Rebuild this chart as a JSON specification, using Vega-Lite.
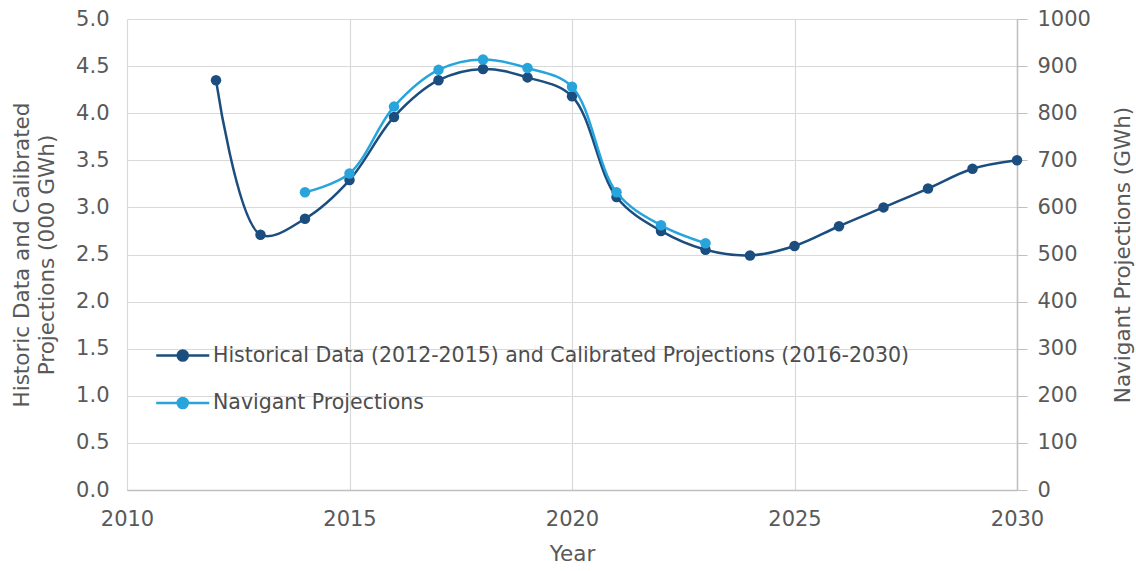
{
  "$schema": "https://vega.github.io/schema/vega-lite/v6.json",
  "autosize": {"type": "none"},
  "width": 890,
  "height": 471,
  "padding": {"left": 127, "top": 19, "right": 119, "bottom": 81},
  "background": "white",
  "config": {
    "view": {"stroke": null},
    "font": "DejaVu Sans",
    "axis": {
      "labelFont": "DejaVu Sans",
      "titleFont": "DejaVu Sans",
      "labelFontSize": 21,
      "titleFontSize": 21.5,
      "titleFontWeight": "normal",
      "labelColor": "#595959",
      "titleColor": "#595959",
      "gridColor": "#d9d9d9",
      "gridWidth": 1.2
    }
  },
  "datasets": {
    "hist": [
      {"year": 2012, "value": 4.35},
      {"year": 2013, "value": 2.71},
      {"year": 2014, "value": 2.88},
      {"year": 2015, "value": 3.29},
      {"year": 2016, "value": 3.96},
      {"year": 2017, "value": 4.35},
      {"year": 2018, "value": 4.47},
      {"year": 2019, "value": 4.38},
      {"year": 2020, "value": 4.18},
      {"year": 2021, "value": 3.11},
      {"year": 2022, "value": 2.75},
      {"year": 2023, "value": 2.55},
      {"year": 2024, "value": 2.49},
      {"year": 2025, "value": 2.59},
      {"year": 2026, "value": 2.8},
      {"year": 2027, "value": 3.0},
      {"year": 2028, "value": 3.2},
      {"year": 2029, "value": 3.41},
      {"year": 2030, "value": 3.5}
    ],
    "nav": [
      {"year": 2014, "gwh": 632},
      {"year": 2015, "gwh": 672},
      {"year": 2016, "gwh": 814},
      {"year": 2017, "gwh": 892},
      {"year": 2018, "gwh": 914},
      {"year": 2019, "gwh": 896},
      {"year": 2020, "gwh": 856},
      {"year": 2021, "gwh": 632},
      {"year": 2022, "gwh": 562},
      {"year": 2023, "gwh": 524}
    ]
  },
  "encoding": {
    "x": {
      "field": "year",
      "type": "quantitative",
      "scale": {"domain": [2010, 2030], "nice": false},
      "axis": {
        "values": [2010, 2015, 2020, 2025, 2030],
        "format": "d",
        "title": "Year",
        "ticks": false,
        "labelFlush": false,
        "domainColor": "#bfbfbf",
        "domainWidth": 1.5,
        "labelPadding": 18,
        "titlePadding": 14,
        "grid": true
      }
    }
  },
  "layer": [
    {
      "data": {"name": "hist"},
      "transform": [{"calculate": "'Historical Data (2012-2015) and Calibrated Projections (2016-2030)'", "as": "series"}],
      "encoding": {
        "y": {
          "field": "value",
          "type": "quantitative",
          "scale": {"domain": [0, 5], "nice": false},
          "axis": {
            "orient": "left",
            "values": [0, 0.5, 1, 1.5, 2, 2.5, 3, 3.5, 4, 4.5, 5],
            "format": ".1f",
            "title": ["Historic Data and Calibrated", "Projections (000 GWh)"],
            "titleLineHeight": 25,
            "titlePadding": 17,
            "domain": false,
            "ticks": false,
            "labelPadding": 18
          }
        },
        "color": {
          "field": "series",
          "type": "nominal",
          "scale": {
            "domain": ["Historical Data (2012-2015) and Calibrated Projections (2016-2030)", "Navigant Projections"],
            "range": ["#1b4e7e", "#27a4dc"]
          },
          "legend": {
            "title": null,
            "orient": "none",
            "legendX": 28,
            "legendY": 322,
            "padding": 0,
            "symbolType": "M-1,0H3M0.62,0A0.38,0.38 0 1,1 1.38,0A0.38,0.38 0 1,1 0.62,0Z",
            "symbolSize": 702,
            "symbolStrokeWidth": 2.5,
            "labelOffset": 29,
            "labelFont": "DejaVu Sans",
            "labelFontSize": 20.5,
            "labelColor": "#4d4d4d",
            "labelLimit": 900,
            "rowPadding": 22.5,
            "encode": {
              "symbols": {
                "update": {
                  "fill": {"scale": "color", "field": "value"},
                  "stroke": {"scale": "color", "field": "value"},
                  "opacity": {"value": 1}
                }
              }
            }
          }
        }
      },
      "layer": [
        {"mark": {"type": "line", "interpolate": "catmull-rom", "strokeWidth": 2.5}},
        {"mark": {"type": "point", "filled": true, "size": 110, "opacity": 1}}
      ]
    },
    {
      "data": {"name": "nav"},
      "transform": [{"calculate": "'Navigant Projections'", "as": "series"}],
      "encoding": {
        "y": {
          "field": "gwh",
          "type": "quantitative",
          "scale": {"domain": [0, 1000], "nice": false},
          "axis": {
            "orient": "right",
            "values": [0, 100, 200, 300, 400, 500, 600, 700, 800, 900, 1000],
            "format": "d",
            "title": "Navigant Projections (GWh)",
            "titleAngle": 270,
            "titlePadding": 44,
            "grid": false,
            "domainColor": "#bfbfbf",
            "domainWidth": 1.5,
            "tickColor": "#bfbfbf",
            "tickSize": 10,
            "labelPadding": 10
          }
        },
        "color": {"field": "series", "type": "nominal"}
      },
      "layer": [
        {"mark": {"type": "line", "interpolate": "catmull-rom", "strokeWidth": 2.5}},
        {"mark": {"type": "point", "filled": true, "size": 110, "opacity": 1}}
      ]
    }
  ],
  "resolve": {"scale": {"y": "independent"}}
}
